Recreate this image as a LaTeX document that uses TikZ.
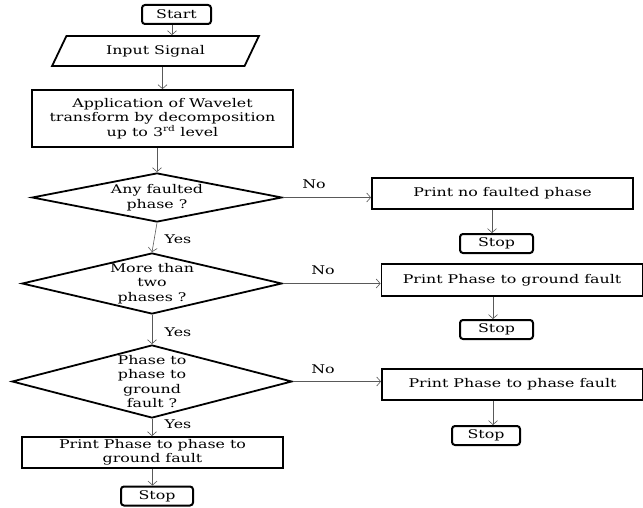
\documentclass[tikz,border=0pt]{standalone}
\usepackage{fontspec}
\setmainfont{DejaVu Serif}[FakeStretch=1.32]
\usetikzlibrary{shapes.geometric,arrows.meta}
\begin{document}
\begin{tikzpicture}[x=1pt,y=-1pt,
  every node/.style={font=\fontsize{12}{14.5}\selectfont, inner sep=0pt, align=center},
  term/.style={draw, line width=2pt, rounded corners=3pt, minimum width=72pt, minimum height=19pt},
  procbox/.style={draw, line width=1.8pt, minimum width=261pt, minimum height=31pt},
  dia/.style={draw, line width=1.8pt, diamond},
  iobox/.style={draw, line width=1.8pt, trapezium, trapezium left angle=56, trapezium right angle=124, trapezium stretches=true, minimum width=207pt, minimum height=30pt},
  conn/.style={draw=black!65, line width=0.6pt, -{Straight Barb[length=4pt,width=9pt]}},
  lbl/.style={font=\fontsize{12}{14}\selectfont}
]
\useasboundingbox (0,0) rectangle (643,508);

\node[term, minimum width=69pt] (start) at (176.5,14.5) {Start};
\node[iobox] (in) at (155.5,51) {Input Signal};
\node[procbox, minimum height=57pt] (wav) at (162.5,118.5) {Application of Wavelet\\transform by decomposition\\up to 3\textsuperscript{rd} level};

\node[dia, minimum width=250pt, minimum height=49pt] (d1) at (157,197.5) {};
\node at (d1) {Any faulted\\phase ?};
\node[dia, minimum width=260pt, minimum height=61pt] (d2) at (152,283.5) {};
\node at (d2) {More than\\two\\phases ?};
\node[dia, minimum width=280pt, minimum height=73pt] (d3) at (152,381.5) {};
\node at (d3) {Phase to\\phase to\\ground\\fault ?};

\node[procbox] (pppg) at (152.5,452.5) {Print Phase to phase to\\ground fault};
\node[term] (stop0) at (157,496) {Stop};

\node[procbox] (nf) at (502.5,193.5) {Print no faulted phase};
\node[term, minimum width=73pt] (stop1) at (496.5,243.5) {Stop};
\node[procbox, minimum height=32pt] (pg) at (512,280) {Print Phase to ground fault};
\node[term, minimum width=73pt] (stop2) at (496.5,329.5) {Stop};
\node[procbox] (pp) at (512.5,384.5) {Print Phase to phase fault};
\node[term, minimum width=68pt] (stop3) at (486,435.5) {Stop};

\draw[conn] (start.south -| 172,0) -- (in.north -| 172,0);
\draw[conn] (in.south -| wav.north) -- (wav.north);
\draw[conn] (wav.south -| d1.north) -- (d1.north);
\draw[conn] (d1.south) -- (d2.north);
\draw[conn] (d2.south) -- (d3.north);
\draw[conn] (d3.south) -- (pppg.north -| d3.south);
\draw[conn] (pppg.south) -- (pppg.south |- stop0.north);

\draw[conn] (d1.east) -- (nf.west |- d1.east);
\draw[conn] (d2.east) -- (pg.west |- d2.east);
\draw[conn] (d3.east) -- (pp.west |- d3.east);

\draw[conn] (nf.south -| 492,0) -- (stop1.north -| 492,0);
\draw[conn] (pg.south -| 493,0) -- (stop2.north -| 493,0);
\draw[conn] (pp.south -| 493,0) -- (stop3.north -| 493,0);

\node[lbl] (y1) at (178,239) {Yes};
\node[lbl] (y2) at (178,332) {Yes};
\node[lbl] (y3) at (178,424) {Yes};
\node[lbl] (n1) at (314,184) {No};
\node[lbl] (n2) at (323,270) {No};
\node[lbl] (n3) at (323,369) {No};
\end{tikzpicture}
\end{document}
